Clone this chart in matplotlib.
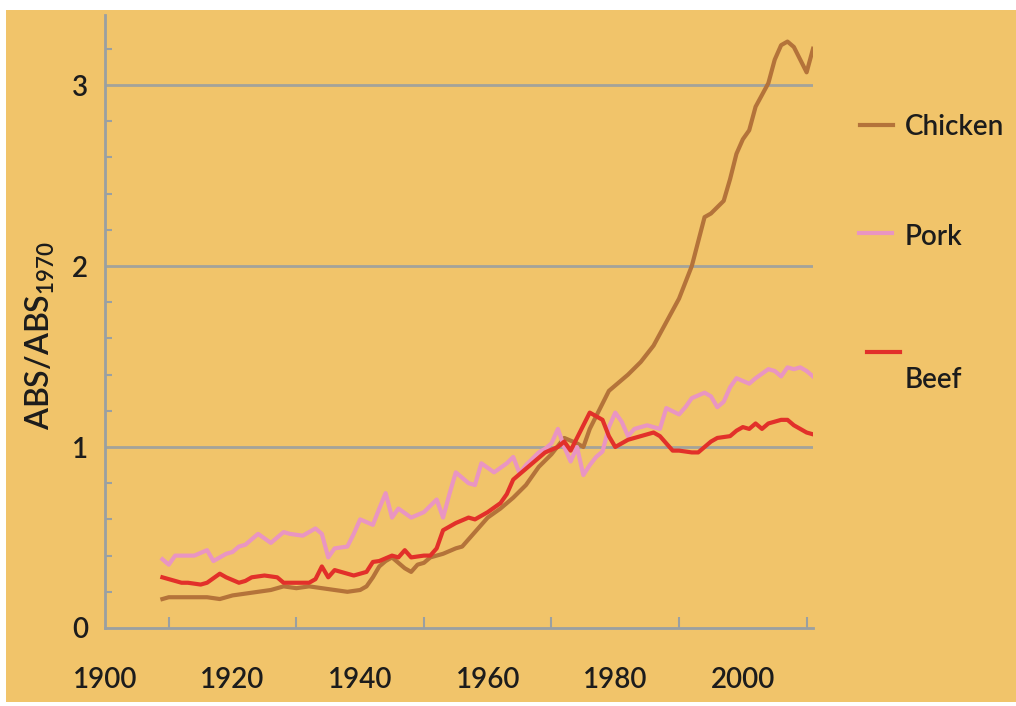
import matplotlib.pyplot as plt
from matplotlib.lines import Line2D
from matplotlib.patches import Rectangle
from matplotlib.ticker import MultipleLocator

# values (ABS relative to 1970)
chicken_years = [1909, 1910, 1913, 1916, 1918, 1920, 1922, 1924, 1926, 1928, 1930, 1932,
                 1934, 1936, 1938, 1940, 1941, 1942, 1943, 1944, 1945, 1946, 1947, 1948,
                 1949, 1950, 1951, 1953, 1955, 1956, 1958, 1960, 1962, 1964, 1966, 1968,
                 1970, 1972, 1974, 1975, 1976, 1978, 1979, 1981, 1982, 1984, 1986, 1988,
                 1990, 1992, 1994, 1995, 1997, 1998, 1999, 2000, 2001, 2002, 2004, 2005,
                 2006, 2007, 2008, 2009, 2010, 2011]
chicken = [0.16, 0.17, 0.17, 0.17, 0.16, 0.18, 0.19, 0.20, 0.21, 0.23, 0.22, 0.23,
           0.22, 0.21, 0.20, 0.21, 0.23, 0.28, 0.34, 0.37, 0.39, 0.36, 0.33, 0.31,
           0.35, 0.36, 0.39, 0.41, 0.44, 0.45, 0.53, 0.61, 0.66, 0.72, 0.79, 0.89,
           0.96, 1.05, 1.02, 1.00, 1.10, 1.24, 1.31, 1.37, 1.40, 1.47, 1.56, 1.69,
           1.82, 2.00, 2.27, 2.29, 2.36, 2.48, 2.62, 2.70, 2.75, 2.88, 3.01, 3.14,
           3.22, 3.24, 3.21, 3.14, 3.07, 3.20]

pork_years = [1909, 1910, 1911, 1912, 1914, 1916, 1917, 1919, 1920, 1921, 1922, 1924,
              1926, 1928, 1929, 1931, 1933, 1934, 1935, 1936, 1938, 1939, 1940, 1942,
              1943, 1944, 1945, 1946, 1948, 1950, 1952, 1953, 1954, 1955, 1957, 1958,
              1959, 1961, 1963, 1964, 1965, 1966, 1968, 1969, 1970, 1971, 1972, 1973,
              1974, 1975, 1976, 1977, 1978, 1979, 1980, 1981, 1982, 1983, 1985, 1987,
              1988, 1990, 1991, 1992, 1994, 1995, 1996, 1997, 1998, 1999, 2001, 2002,
              2004, 2005, 2006, 2007, 2008, 2009, 2010, 2011]
pork = [0.38, 0.35, 0.40, 0.40, 0.40, 0.43, 0.37, 0.41, 0.42, 0.45, 0.46, 0.52,
        0.47, 0.53, 0.52, 0.51, 0.55, 0.52, 0.39, 0.44, 0.45, 0.52, 0.60, 0.57,
        0.66, 0.745, 0.61, 0.66, 0.61, 0.64, 0.71, 0.61, 0.74, 0.86, 0.80, 0.79,
        0.91, 0.86, 0.91, 0.945, 0.855, 0.90, 0.97, 0.99, 1.02, 1.10, 1.00, 0.92,
        1.00, 0.845, 0.90, 0.945, 0.975, 1.11, 1.19, 1.14, 1.06, 1.10, 1.12, 1.10,
        1.215, 1.18, 1.22, 1.27, 1.30, 1.28, 1.22, 1.25, 1.33, 1.38, 1.35, 1.38,
        1.43, 1.42, 1.39, 1.44, 1.43, 1.44, 1.42, 1.39]

beef_years = [1909, 1910, 1912, 1913, 1915, 1916, 1918, 1919, 1921, 1922, 1923, 1925,
              1927, 1928, 1930, 1932, 1933, 1934, 1935, 1936, 1937, 1939, 1940, 1941,
              1942, 1943, 1944, 1945, 1946, 1947, 1948, 1950, 1951, 1952, 1953, 1955,
              1957, 1958, 1960, 1962, 1963, 1964, 1966, 1967, 1969, 1971, 1972, 1973,
              1974, 1975, 1976, 1977, 1978, 1979, 1980, 1981, 1982, 1983, 1985, 1986,
              1987, 1988, 1989, 1990, 1992, 1993, 1994, 1995, 1996, 1998, 1999, 2000,
              2001, 2002, 2003, 2004, 2005, 2006, 2007, 2008, 2009, 2010, 2011]
beef = [0.28, 0.27, 0.25, 0.25, 0.24, 0.25, 0.30, 0.28, 0.25, 0.26, 0.28, 0.29,
        0.28, 0.25, 0.25, 0.25, 0.27, 0.34, 0.28, 0.32, 0.31, 0.29, 0.30, 0.31,
        0.365, 0.37, 0.385, 0.40, 0.39, 0.43, 0.39, 0.40, 0.40, 0.44, 0.54, 0.58,
        0.61, 0.60, 0.64, 0.69, 0.74, 0.82, 0.88, 0.91, 0.97, 1.00, 1.03, 0.98,
        1.05, 1.12, 1.19, 1.17, 1.15, 1.06, 1.00, 1.02, 1.04, 1.05, 1.07, 1.08,
        1.06, 1.02, 0.98, 0.98, 0.97, 0.97, 1.00, 1.03, 1.05, 1.06, 1.09, 1.11,
        1.10, 1.13, 1.10, 1.13, 1.14, 1.15, 1.15, 1.12, 1.10, 1.08, 1.07]

x_ticks = [1900, 1920, 1940, 1960, 1980, 2000]
y_ticks = [0, 1, 2, 3]

BG = '#F1C46A'
AXC = '#9AA0A2'
GRID = '#A3A39B'
TXT = '#1c1c1c'
colors = {'Chicken': '#B4733A', 'Pork': '#E995C2', 'Beef': '#E2302A'}

plt.rcParams['font.family'] = ['Lato', 'DejaVu Sans']

W, H = 1016, 706
fig = plt.figure(figsize=(W / 100, H / 100), dpi=100, facecolor='white')
fig.patches.append(Rectangle((6 / W, 4 / H), 1 - 6 / W, (H - 10 - 4) / H,
                             transform=fig.transFigure, facecolor=BG, edgecolor='none',
                             zorder=-10))

ax = fig.add_axes([105 / W, 78 / H, (813 - 105) / W, (628 - 15) / H])
ax.set_facecolor('none')

ax.plot(chicken_years, chicken, color=colors['Chicken'], lw=3, zorder=3)
ax.plot(pork_years, pork, color=colors['Pork'], lw=3, zorder=3)
ax.plot(beef_years, beef, color=colors['Beef'], lw=3, zorder=4)

ax.set_xlim(1900, 2011)
ax.set_ylim(0, (628 - 15) / 181)

for y in y_ticks[1:]:
    ax.axhline(y, color=GRID, lw=2, zorder=1)

for s in ['top', 'right']:
    ax.spines[s].set_visible(False)
for s in ['left', 'bottom']:
    ax.spines[s].set_color(AXC)
    ax.spines[s].set_linewidth(2)

ax.set_yticks(y_ticks)
ax.yaxis.set_minor_locator(MultipleLocator(0.2))
ax.set_xticks(x_ticks)
ax.xaxis.set_minor_locator(MultipleLocator(10))
ax.tick_params(axis='y', which='major', direction='in', length=0, pad=12,
               labelsize=20, labelcolor=TXT)
ax.tick_params(axis='y', which='minor', direction='in', length=5, width=1.5, color=AXC)
ax.tick_params(axis='x', which='major', direction='in', length=0, pad=28,
               labelsize=20, labelcolor=TXT)
ax.tick_params(axis='x', which='minor', direction='in', length=8, width=1.5, color=AXC)
for lab in ax.get_xticklabels() + ax.get_yticklabels():
    lab.set_fontweight('semibold')

fig.text(40 / W, 1 - 335 / H, r'ABS/ABS$_{\mathregular{1970}}$', rotation=90,
         ha='center', va='center', fontsize=23, color=TXT, fontweight='semibold')

# legend drawn by hand like the reference
legend = [('Chicken', 860, 125, 127), ('Pork', 859, 233, 237), ('Beef', 867, 352, 380)]
for name, lx, ly, ty in legend:
    fig.add_artist(Line2D([lx / W, (lx + 33) / W], [1 - ly / H, 1 - ly / H],
                          color=colors[name], lw=3, transform=fig.transFigure))
    fig.text(905 / W, 1 - ty / H, name, ha='left', va='center', fontsize=20,
             color=TXT, fontweight='semibold')

fig.savefig('out.png', dpi=100, facecolor='white')
